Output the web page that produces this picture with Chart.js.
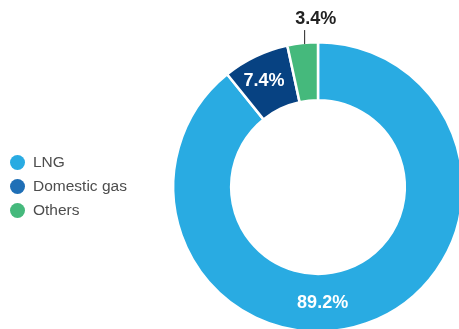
<!DOCTYPE html>
<html>
<head>
<meta charset="utf-8">
<script src="https://cdn.jsdelivr.net/npm/chart.js@4.4.1/dist/chart.umd.min.js"></script>
<style>
  html, body { margin: 0; padding: 0; background: #fff; overflow: hidden; }
  body { width: 459px; height: 329px; position: relative; font-family: "Liberation Sans", Arial, sans-serif; }
  #wrap { position: absolute; left: 0; top: 0; width: 480px; height: 340px; }
  #legend { position: absolute; left: 10px; top: 150px; }
  .item { display: flex; align-items: center; height: 24px; font-size: 15.5px; color: #4d4d4d; }
  .dot { width: 15px; height: 15px; border-radius: 50%; margin-right: 8px; }
</style>
</head>
<body>
<div id="wrap"><canvas id="chart" width="480" height="340"></canvas></div>
<div id="legend"></div>
<script>
const categories = ["LNG", "Domestic gas", "Others"];
const shares = [89.2, 7.4, 3.4];
const sliceColors = ["#29abe2", "#074282", "#45b97c"];
const legendColors = ["#29abe2", "#1f6fb6", "#45b97c"];

// legend on the left
const legend = document.getElementById("legend");
categories.forEach((name, i) => {
  const row = document.createElement("div");
  row.className = "item";
  row.innerHTML = `<span class="dot" style="background:${legendColors[i]}"></span>${name}`;
  legend.appendChild(row);
});

const sliceLabels = {
  id: "sliceLabels",
  afterDatasetsDraw(chart) {
    const ctx = chart.ctx;
    const arcs = chart.getDatasetMeta(0).data;
    ctx.save();
    ctx.font = "bold 18px 'Liberation Sans', Arial, sans-serif";
    ctx.textAlign = "center";
    ctx.textBaseline = "middle";
    arcs.forEach((arc, i) => {
      const { x, y, innerRadius, outerRadius, startAngle, endAngle } = arc.getProps(["x", "y", "innerRadius", "outerRadius", "startAngle", "endAngle"], true);
      const text = shares[i].toFixed(1) + "%";
      const mid = (startAngle + endAngle) / 2;
      const r = (innerRadius + outerRadius) / 2;
      if (i === 0) {
        // big slice: label sits at the bottom of the ring
        const a = Math.PI / 2 - 0.04;
        ctx.fillStyle = "#fff";
        ctx.fillText(text, x + r * Math.cos(a), y + r * Math.sin(a));
      } else if (shares[i] > 5) {
        ctx.fillStyle = "#fff";
        ctx.fillText(text, x + r * Math.cos(mid) - 4, y + r * Math.sin(mid) - 2);
      } else {
        // small slice: label outside with a leader line
        const lx = x + r * Math.cos(mid) - 1;
        const ly = y + outerRadius * Math.sin(mid);
        ctx.strokeStyle = "#222";
        ctx.lineWidth = 1;
        ctx.beginPath();
        ctx.moveTo(lx, ly + 1);
        ctx.lineTo(lx, ly - 13);
        ctx.stroke();
        ctx.fillStyle = "#222";
        ctx.fillText(text, lx + 11, ly - 24);
      }
    });
    ctx.restore();
  }
};

new Chart(document.getElementById("chart"), {
  type: "doughnut",
  data: {
    labels: categories,
    datasets: [{
      data: shares,
      backgroundColor: sliceColors,
      borderColor: "#fff",
      borderWidth: 2.5
    }]
  },
  options: {
    responsive: false,
    animation: false,
    cutout: "60%",
    layout: { padding: { left: 172, right: 16, top: 41, bottom: 7 } },
    plugins: { legend: { display: false }, tooltip: { enabled: false } }
  },
  plugins: [sliceLabels]
});
</script>
</body>
</html>
